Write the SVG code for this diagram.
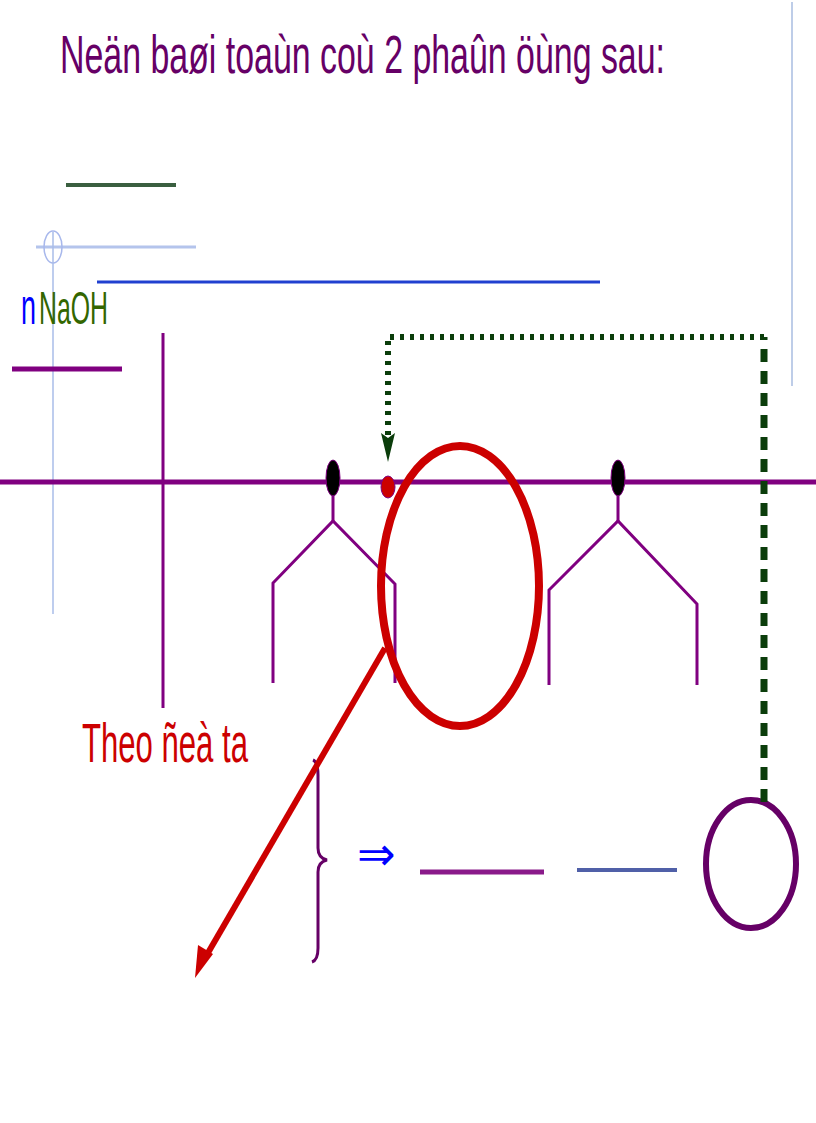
<svg xmlns="http://www.w3.org/2000/svg" width="816" height="1123" viewBox="0 0 816 1123">
<style>
.t{font-family:"Liberation Sans","DejaVu Sans",sans-serif}
.pl{stroke:#800080;fill:none;stroke-linecap:butt}
.mol{stroke:#800080;stroke-width:3;fill:none;stroke-linejoin:miter}
</style>
<rect width="816" height="1123" fill="#ffffff"/>

<g id="title">
<text class="t" x="60" y="73" font-size="54" fill="#660066" textLength="605" lengthAdjust="spacingAndGlyphs">Neän baøi toaùn coù 2 phaûn öùng sau:</text>
</g>

<g id="frame-line">
<line x1="792" y1="2" x2="792" y2="386" stroke="#a8bce0" stroke-width="1.5"/>
</g>

<g id="top-lines">
<line x1="66" y1="185" x2="176" y2="185" stroke="#3a5f40" stroke-width="4"/>
<line x1="36" y1="247" x2="196" y2="247" stroke="#b4c4ec" stroke-width="3"/>
<ellipse cx="53" cy="247" rx="9" ry="16" fill="none" stroke="#a8b8ec" stroke-width="1.5"/>
<line x1="53" y1="232" x2="53" y2="614" stroke="#a8bce8" stroke-width="1.5"/>
<line x1="97" y1="282" x2="600" y2="282" stroke="#2040d0" stroke-width="3"/>
</g>

<g id="naoh-label">
<text class="t" x="21" y="324" font-size="50" fill="#0000ff" textLength="15" lengthAdjust="spacingAndGlyphs">n</text>
<text class="t" x="39" y="324" font-size="46" fill="#336600" textLength="69" lengthAdjust="spacingAndGlyphs">NaOH</text>
</g>

<g id="left-lines">
<line class="pl" x1="12" y1="369" x2="122" y2="369" stroke-width="5"/>
<line class="pl" x1="163" y1="333" x2="163" y2="708" stroke-width="3"/>
</g>

<g id="chain">
<line class="pl" x1="0" y1="482" x2="816" y2="482" stroke-width="5"/>
</g>

<g id="molecule-1">
<ellipse cx="333" cy="478" rx="7" ry="18" fill="#000000" stroke="#800080" stroke-width="1"/>
<polyline class="mol" points="333,496 333,521"/>
<polyline class="mol" points="273,683 273,583 333,521 395,584 395,683"/>
</g>

<g id="red-dot">
<ellipse cx="388" cy="487" rx="7" ry="11" fill="#cc0000" stroke="#800080" stroke-width="1"/>
</g>

<g id="molecule-2">
<ellipse cx="618" cy="478" rx="7" ry="18" fill="#000000" stroke="#800080" stroke-width="1"/>
<polyline class="mol" points="618,496 618,521"/>
<polyline class="mol" points="549,685 549,590 618,521 697,604 697,685"/>
</g>

<g id="red-ellipse">
<ellipse cx="460" cy="586" rx="79" ry="140" fill="none" stroke="#cc0000" stroke-width="8"/>
</g>

<g id="theo-label">
<text class="t" x="82" y="762" font-size="55" fill="#cc0000" textLength="166" lengthAdjust="spacingAndGlyphs">Theo ñeà ta</text>
</g>

<g id="brace">
<path d="M313,760 Q318,762 318,775 L318,848 Q318,858 327,860 Q318,862 318,872 L318,948 Q318,960 312,962" fill="none" stroke="#660066" stroke-width="3"/>
</g>

<g id="implies">
<text class="t" x="357" y="870" font-size="46" fill="#0000ff">⇒</text>
</g>

<g id="bottom-lines">
<line x1="420" y1="872" x2="544" y2="872" stroke="#8a1a8a" stroke-width="5"/>
<line x1="577" y1="870" x2="677" y2="870" stroke="#5060a8" stroke-width="4"/>
</g>

<g id="purple-circle">
<ellipse cx="751" cy="864" rx="45" ry="64" fill="none" stroke="#660066" stroke-width="6"/>
</g>

<g id="connectors">
<path d="M764,802 L764,337" fill="none" stroke="#0b3d0b" stroke-width="7" stroke-dasharray="13,9"/>
<path d="M764,337 L388,337 L388,438" fill="none" stroke="#0b3d0b" stroke-width="6" stroke-dasharray="4,6"/>
<polygon points="381,433 388,438 395,433 388,462" fill="#0b3d0b"/>
<line x1="385" y1="648" x2="205" y2="958" stroke="#cc0000" stroke-width="6"/>
<polygon points="195,978 198,945 213,954" fill="#cc0000"/>
</g>
</svg>
